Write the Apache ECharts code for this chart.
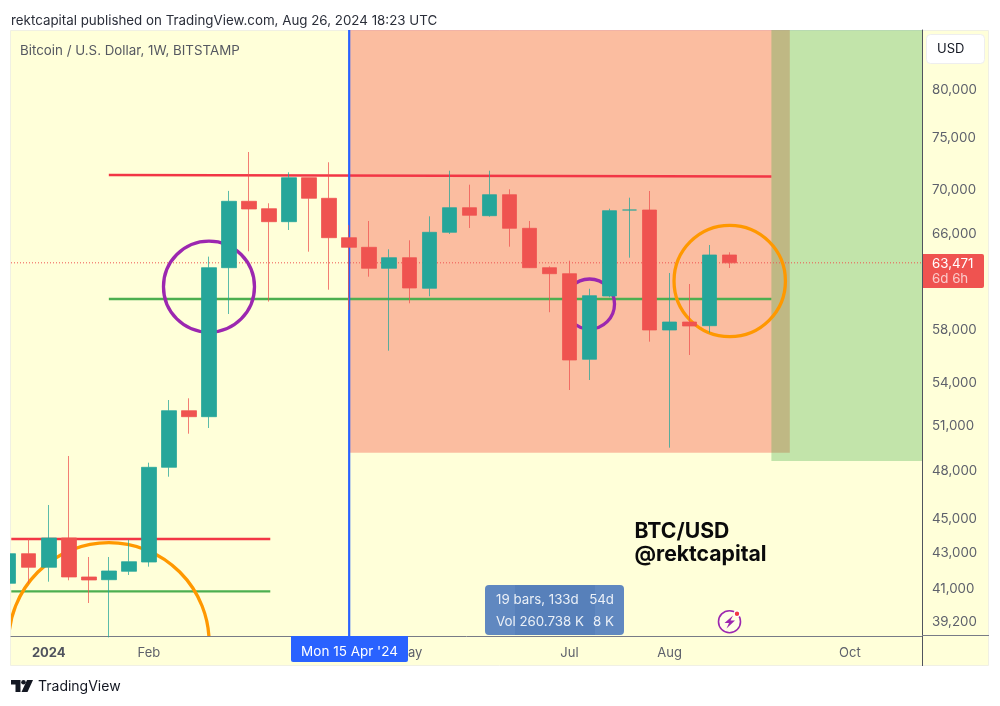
<!DOCTYPE html>
<html><head><meta charset="utf-8">
<style>html,body{margin:0;padding:0;background:#fff}#c{width:1000px;height:706px}</style>
<script src="https://cdn.jsdelivr.net/npm/echarts@6/dist/echarts.min.js"></script>
</head><body><div id="c"></div>
<script>
// Weekly candles; x is the week number, week 0 starts 2023-12-18
var firstWeek = Date.UTC(2023, 11, 18);
var WEEK = 7 * 864e5;
var opens  = [41290,42963,42186,43878,41642,41490,41961,42487,48243,52049,51632,63057,68932,68250,67070,71149,69210,65646,64806,63006,63908,61338,66123,68342,67613,69545,66478,63057,62551,55765,60707,68131,68131,58001,58626,58336,64140];
var closes = [42963,42186,43878,41642,41474,41978,42504,48243,52049,51632,63057,68932,68223,67070,71149,69210,65646,64806,63006,63908,61362,66123,68342,67649,69545,66478,63057,62551,55712,60732,68068,68131,58001,58626,58313,64140,63471];
var lows   = [41197,41290,41379,41457,40214,38400,41754,42221,47638,50468,50855,59259,64459,60252,66327,64425,61222,59578,62300,56412,60116,60683,65973,66506,67522,64858,66478,59400,53514,54237,60602,63908,57098,49529,56087,57791,63032];
var highs  = [43062,43818,45864,48980,42774,42774,43778,48542,52801,52922,64000,69900,73645,68747,71666,71149,72634,66774,67134,64633,65417,67558,71820,70484,71820,70050,67134,63176,63652,61300,68250,69266,69891,62610,61692,65006,64373];

// Zones: start and end week, lower price
var zoneStart = [17, 38.08];
var zoneEnd   = [39, 46];
var zoneLow   = [49198, 48653];
var zoneColor = ['rgba(244,67,54,0.35)', 'rgba(76,175,80,0.34)'];

// Trend lines: week / price pairs
var resistanceTop    = [[5, 71407], [38.08, 71264]];
var supportTop       = [[5, 60464], [38.08, 60464]];
var resistanceBottom = [[0.13, 43818], [13.06, 43818]];
var supportBottom    = [[0.13, 40851], [13.06, 40851]];
var lastPrice = 63471;
var markerWeek = 17;

// Circles: week, price, pixel radius
var circleWeek  = [10, 29, 36, 5];
var circlePrice = [61470, 60060, 61941, 38116];
var circleR     = [45.5, 25, 55.7, 100.3];
var circleColor = ['#9c27b0', '#9c27b0', '#ff9800', '#ff9800'];

var priceTicks = [80000, 75000, 70000, 66000, 58000, 54000, 51000, 48000, 45000, 43000, 41000, 39200];
var timeTickDates  = ['2024-01-01', '2024-02-05', '2024-05-06', '2024-07-01', '2024-08-05', '2024-10-07'];
var timeTickLabels = ['2024', 'Feb', 'May', 'Jul', 'Aug', 'Oct'];

var UP = '#26a69a', DOWN = '#ef5350', FONT = 'Inter, "Liberation Sans", sans-serif';
var yMin = 38472, yMax = 86740;
var xMin = 0.115, xMax = 45.6;

var candles = opens.map(function (o, i) { return [i, o, closes[i], lows[i], highs[i]]; });
var tickWeeks = timeTickDates.map(function (d) { return (Date.parse(d + 'T00:00:00Z') - firstWeek) / WEEK; });

function lineSeries(data, color, width, type, z) {
  return { type: 'line', data: data, showSymbol: false, symbol: 'none', silent: true, z: z || 2,
    clip: true, lineStyle: { color: color, width: width, type: type || 'solid' } };
}

var chart = echarts.init(document.getElementById('c'), null, { renderer: 'canvas' });
function txt(x, y, s, size, color, extra) {
  return { type: 'text', z: 120, silent: true, style: Object.assign({ x: x, y: y, text: s, fontSize: size, fill: color, fontFamily: FONT, verticalAlign: 'middle', align: 'left' }, extra || {}) };
}
chart.setOption({
  animation: false,
  backgroundColor: '#fff',
  grid: { left: 11, top: 30, width: 911, height: 606, containLabel: false },
  xAxis: { type: 'value', min: xMin, max: xMax, splitLine: { show: false }, axisTick: { show: false },
    axisLine: { show: true, onZero: false, lineStyle: { color: '#787b86', width: 1 } },
    axisLabel: { customValues: tickWeeks, margin: 11, hideOverlap: false, fontFamily: FONT, fontSize: 13, color: '#5d606b',
      formatter: function (v) {
        var s = timeTickLabels[tickWeeks.indexOf(+v)] || '';
        return s === '2024' ? '{b|' + s + '}' : s;
      },
      rich: { b: { fontWeight: 'bold', fontSize: 13, color: '#50535e', fontFamily: FONT } } } },
  yAxis: { type: 'log', position: 'right', min: yMin, max: yMax, splitLine: { show: false }, axisTick: { show: false }, minorTick: { show: false },
    axisLine: { show: true, onZero: false, lineStyle: { color: '#50535e', width: 1 } },
    axisLabel: { customValues: priceTicks, margin: 10, padding: [4, 0, 0, 0], fontFamily: FONT, fontSize: 13.3, color: '#5d606b', hideOverlap: false,
      formatter: function (v) { return Math.round(v).toLocaleString('en-US'); } } },
  series: [
    { type: 'custom', z: 1, silent: true, clip: true, data: zoneStart.map(function (s, i) { return [i]; }),
      renderItem: function (p, api) {
        var i = api.value(0);
        var a = api.coord([zoneStart[i], yMax]);
        var b = api.coord([Math.min(zoneEnd[i], xMax), zoneLow[i]]);
        return { type: 'rect', shape: { x: a[0], y: a[1], width: b[0] - a[0], height: b[1] - a[1] }, style: { fill: zoneColor[i] } };
      } },
    lineSeries(resistanceTop, '#f23645', 2.3),
    lineSeries(supportTop, '#4caf50', 2.3),
    lineSeries(resistanceBottom, '#f23645', 2.3),
    lineSeries(supportBottom, '#4caf50', 2.3),
    lineSeries([[xMin, lastPrice], [xMax, lastPrice]], '#ef5350', 1, [1, 2]),
    lineSeries([[markerWeek, yMin], [markerWeek, yMax]], '#2962ff', 2.2),
    { type: 'custom', z: 3, silent: true, clip: true, data: circleWeek.map(function (s, i) { return [i]; }),
      renderItem: function (p, api) {
        var i = api.value(0);
        var c = api.coord([circleWeek[i], circlePrice[i]]);
        return { type: 'circle', shape: { cx: c[0], cy: c[1], r: circleR[i] }, style: { fill: 'none', stroke: circleColor[i], lineWidth: 3.3 } };
      } },
    { type: 'candlestick', z: 5, silent: true, barWidth: 15, clip: true, data: candles, encode: { x: 0, y: [1, 2, 3, 4] },
      itemStyle: { color: UP, color0: DOWN, borderColor: 'rgba(38,166,154,0.75)', borderColor0: 'rgba(239,83,80,0.75)', borderWidth: 1 } }
  ],
  graphic: [
    { type: 'rect', z: -10, silent: true, shape: { x: 10.5, y: 30.5, width: 978, height: 635 }, style: { fill: '#ffffd9', stroke: '#f0f0e4', lineWidth: 1 } },
    { type: 'rect', z: 100, silent: true, shape: { x: 0, y: 28, width: 10, height: 640 }, style: { fill: '#ffffff' } },
    { type: 'line', z: 110, silent: true, shape: { x1: 922.5, y1: 636, x2: 922.5, y2: 666 }, style: { stroke: '#50535e', lineWidth: 1 } },
    { type: 'line', z: 110, silent: true, shape: { x1: 922, y1: 635.5, x2: 989, y2: 635.5 }, style: { stroke: '#787b86', lineWidth: 1 } },
    txt(11, 20.5, 'rektcapital published on TradingView.com, Aug 26, 2024 18:23 UTC', 13.35, '#2a2e39'),
    txt(20, 50.5, 'Bitcoin / U.S. Dollar, 1W, BITSTAMP', 13.35, '#555861'),
    { type: 'rect', z: 110, silent: true, shape: { x: 926.5, y: 34.5, width: 58, height: 29, r: 4 }, style: { fill: '#fff', stroke: '#eeeeee', lineWidth: 1 } },
    txt(937, 49.5, 'USD', 13, '#131722'),
    { type: 'rect', z: 110, silent: true, shape: { x: 923, y: 254, width: 61, height: 34, r: [0, 2, 2, 0] }, style: { fill: '#ef5350' } },
    txt(932, 263.5, '63,471', 13.3, '#ffffff'),
    txt(932, 278.5, '6d 6h', 13.3, 'rgba(255,255,255,0.7)'),
    { type: 'rect', z: 110, silent: true, shape: { x: 291, y: 636, width: 117, height: 26, r: [0, 0, 2, 2] }, style: { fill: '#2962ff' } },
    txt(349.5, 651.5, "Mon 15 Apr '24", 13.5, '#ffffff', { align: 'center' }),
    txt(634.5, 532, 'BTC/USD', 21.2, '#0b0b0b', { fontWeight: 'bold' }),
    txt(634.5, 554.5, '@rektcapital', 21.2, '#0b0b0b', { fontWeight: 'bold' }),
    { type: 'rect', z: 110, silent: true, shape: { x: 485, y: 585, width: 139, height: 50, r: 4 }, style: { fill: '#6088c0' } },
    { type: 'rect', z: 111, silent: true, shape: { x: 515, y: 585, width: 80, height: 50 }, style: { fill: '#5780ba' } },
    txt(496, 600, '19 bars, 133d', 13.3, 'rgba(255,255,255,0.88)'),
    txt(496, 622, 'Vol 260.738 K', 13.3, 'rgba(255,255,255,0.88)'),
    txt(614, 600, '54d', 13.3, 'rgba(255,255,255,0.88)', { align: 'right' }),
    txt(614, 622, '8 K', 13.3, 'rgba(255,255,255,0.88)', { align: 'right' }),
    { type: 'circle', z: 110, silent: true, shape: { cx: 729.5, cy: 621.7, r: 11 }, style: { fill: 'rgba(255,255,255,0.35)', stroke: '#9c27b0', lineWidth: 1.6 } },
    { type: 'polygon', z: 111, silent: true, shape: { points: [[733, 615.5], [724.5, 623], [729, 623], [726.5, 628.5], [735, 620.5], [730.5, 620.5]] }, style: { fill: '#9c27b0' } },
    { type: 'circle', z: 112, silent: true, shape: { cx: 737, cy: 613.7, r: 2.8 }, style: { fill: '#f23645', stroke: '#ffffff', lineWidth: 1.2 } },
    { type: 'polygon', z: 110, silent: true, shape: { points: [[11, 680], [20.5, 680], [20.5, 692], [15.5, 692], [15.5, 684.5], [11, 684.5]] }, style: { fill: '#131722' } },
    { type: 'circle', z: 110, silent: true, shape: { cx: 23.5, cy: 682.3, r: 2.3 }, style: { fill: '#131722' } },
    { type: 'polygon', z: 110, silent: true, shape: { points: [[27, 680], [33, 680], [27.5, 692], [21.5, 692]] }, style: { fill: '#131722' } },
    txt(38, 686.5, 'TradingView', 14, '#131722')
  ]
});
</script></body></html>
